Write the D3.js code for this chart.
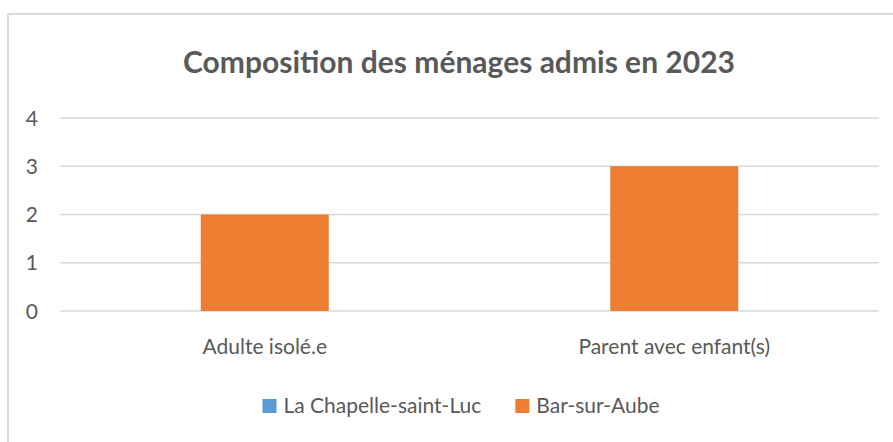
<!DOCTYPE html>
<html lang="fr">
<head>
<meta charset="UTF-8">
<title>Composition des ménages admis en 2023</title>
<script src="https://cdnjs.cloudflare.com/ajax/libs/d3/7.8.5/d3.min.js"></script>
<style>
    body { margin: 0; background: #fff; }
    svg { display: block; }
    text { font-family: Lato, "Open Sans", sans-serif; fill: #595959; }
</style>
</head>
<body>
<div id="chart"></div>
<script>
// data
const categories = ["Adulte isolé.e", "Parent avec enfant(s)"];
const seriesNames = ["La Chapelle-saint-Luc", "Bar-sur-Aube"];
const chapelleValues = [0, 0];
const barValues = [2, 3];
const yTicks = [0, 1, 2, 3, 4];
const seriesColors = ["#5B9BD5", "#ED7D31"];

const W = 893, H = 442;
const plot = { left: 60, right: 879, top: 118, bottom: 311 };

const svg = d3.select("#chart").append("svg")
    .attr("width", W)
    .attr("height", H);

// chart area border (the right and bottom edges fall outside the crop)
svg.append("rect")
    .attr("x", 8).attr("y", 14)
    .attr("width", W).attr("height", H)
    .attr("fill", "#fff")
    .attr("stroke", "#d9d9d9")
    .attr("stroke-width", 2);

svg.append("text")
    .attr("x", 459).attr("y", 73)
    .attr("text-anchor", "middle")
    .style("font-size", "30px")
    .style("font-weight", "bold")
    .text("Composition des ménages admis en 2023");

const x = d3.scaleBand()
    .domain(categories)
    .range([plot.left, plot.right]);

const y = d3.scaleLinear()
    .domain([0, 4])
    .range([plot.bottom, plot.top]);

// gridlines
svg.append("g")
    .selectAll("line")
    .data(yTicks)
    .join("line")
    .attr("x1", plot.left).attr("x2", plot.right)
    .attr("y1", d => y(d)).attr("y2", d => y(d))
    .attr("stroke", "#d9d9d9")
    .attr("stroke-width", 1.5);

// y tick labels
svg.append("g")
    .selectAll("text")
    .data(yTicks)
    .join("text")
    .attr("x", 38)
    .attr("y", d => y(d))
    .attr("dy", "0.36em")
    .attr("text-anchor", "end")
    .style("font-size", "21px")
    .text(d => d);

// bars: gap width 220%, series overlapped
const barW = x.bandwidth() / 3.2;
const series = [chapelleValues, barValues];
series.forEach((vals, si) => {
    svg.append("g")
        .selectAll("rect")
        .data(categories.map((c, i) => ({ c, v: vals[i] })))
        .join("rect")
        .attr("x", d => x(d.c) + (x.bandwidth() - barW) / 2)
        .attr("width", barW)
        .attr("y", d => y(d.v))
        .attr("height", d => y(0) - y(d.v))
        .attr("fill", seriesColors[si]);
});

// category labels
svg.append("g")
    .selectAll("text")
    .data(categories)
    .join("text")
    .attr("x", d => x(d) + x.bandwidth() / 2)
    .attr("y", 354)
    .attr("text-anchor", "middle")
    .style("font-size", "21px")
    .text(d => d);

// legend, centred under the chart
const legend = svg.append("g");
let lx = 0;
seriesNames.forEach((name, i) => {
    const g = legend.append("g").attr("transform", `translate(${lx},0)`);
    g.append("rect")
        .attr("x", 0).attr("y", -14)
        .attr("width", 14).attr("height", 14)
        .attr("fill", seriesColors[i]);
    const t = g.append("text")
        .attr("x", 21).attr("y", 0)
        .style("font-size", "21px")
        .text(name);
    lx += 21 + t.node().getComputedTextLength() + 34;
});
const legendW = lx - 34;
legend.attr("transform", `translate(${461 - legendW / 2},413)`);
</script>
</body>
</html>
